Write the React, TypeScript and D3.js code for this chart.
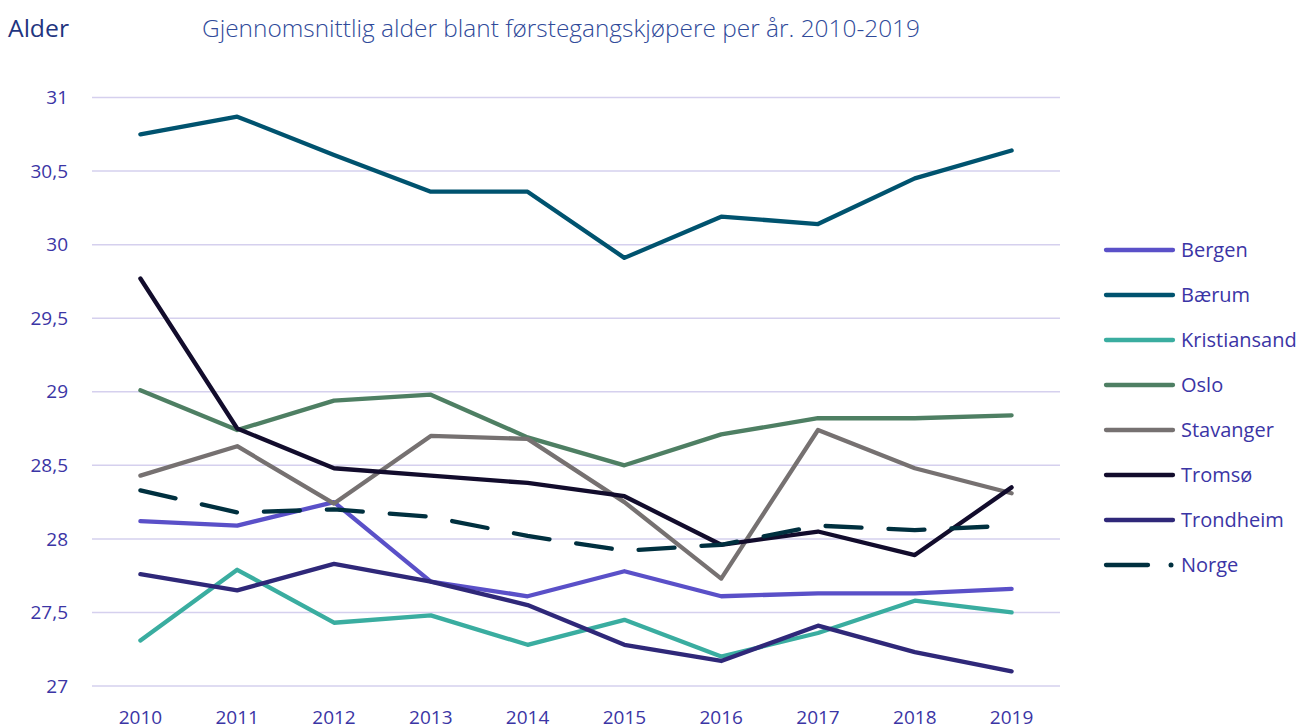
import React from "react";
import * as d3 from "d3";

const years = ["2010","2011","2012","2013","2014","2015","2016","2017","2018","2019"];
const yTicks = [27, 27.5, 28, 28.5, 29, 29.5, 30, 30.5, 31];

const bergen = [28.12, 28.09, 28.25, 27.71, 27.61, 27.78, 27.61, 27.63, 27.63, 27.66];
const baerum = [30.75, 30.87, 30.61, 30.36, 30.36, 29.91, 30.19, 30.14, 30.45, 30.64];
const kristiansand = [27.31, 27.79, 27.43, 27.48, 27.28, 27.45, 27.20, 27.36, 27.58, 27.50];
const oslo = [29.01, 28.74, 28.94, 28.98, 28.69, 28.50, 28.71, 28.82, 28.82, 28.84];
const stavanger = [28.43, 28.63, 28.24, 28.70, 28.68, 28.25, 27.73, 28.74, 28.48, 28.31];
const tromso = [29.77, 28.75, 28.48, 28.43, 28.38, 28.29, 27.96, 28.05, 27.89, 28.35];
const trondheim = [27.76, 27.65, 27.83, 27.71, 27.55, 27.28, 27.17, 27.41, 27.23, 27.10];
const norge = [28.33, 28.18, 28.20, 28.15, 28.02, 27.92, 27.96, 28.09, 28.06, 28.09];

const seriesNames = ["Bergen", "Bærum", "Kristiansand", "Oslo", "Stavanger", "Tromsø", "Trondheim", "Norge"];
const seriesValues = [bergen, baerum, kristiansand, oslo, stavanger, tromso, trondheim, norge];
const seriesColors = ["#5A50C8", "#00536F", "#3AADA0", "#4E7F63", "#767171", "#120C2C", "#2F2879", "#00303F"];

const textColor = "#3B35A5";

export default function App() {
  const width = 1304;
  const height = 728;
  const left = 92, right = 1060, top = 97.5, bottom = 686;

  const x = d3.scaleBand<string>().domain(years).range([left, right]);
  const y = d3.scaleLinear().domain([27, 31]).range([bottom, top]);
  const fmt = (v: number) => String(v).replace(".", ",");

  const line = d3.line<number>()
    .x((_, i) => (x(years[i]) as number) + x.bandwidth() / 2)
    .y((d) => y(d));

  return (
    <svg width={width} height={height} style={{ position: "absolute", left: 0, top: 0, fontFamily: "'Open Sans', 'Noto Sans', sans-serif" }}>
      <rect width={width} height={height} fill="#fff" />
      <text x={8} y={37} fontSize={23} fill="#1F3580" textLength={61} lengthAdjust="spacingAndGlyphs">Alder</text>
      <text x={202} y={37} fontSize={23} fill="#2F4A9A" fontWeight={300} textLength={718} lengthAdjust="spacingAndGlyphs">Gjennomsnittlig alder blant førstegangskjøpere per år. 2010-2019</text>

      {yTicks.map((t) => (
        <g key={t}>
          <line x1={left} x2={right} y1={y(t)} y2={y(t)} stroke="#D5D0EE" strokeWidth={1.5} />
          <text x={68} y={y(t)} dy="0.35em" textAnchor="end" fontSize={19} fill={textColor}>{fmt(t)}</text>
        </g>
      ))}

      {years.map((yr) => (
        <text key={yr} x={(x(yr) as number) + x.bandwidth() / 2} y={724} textAnchor="middle" fontSize={19} fill={textColor}>{yr}</text>
      ))}

      {seriesValues.map((vals, i) => (
        <path key={seriesNames[i]} d={line(vals) || ""} fill="none" stroke={seriesColors[i]} strokeWidth={4.3}
          strokeLinecap="round" strokeLinejoin="round"
          strokeDasharray={seriesNames[i] === "Norge" ? "36,27" : undefined} />
      ))}

      {seriesNames.map((name, i) => {
        const ly = 250 + i * 45;
        const isDash = name === "Norge";
        return (
          <g key={name}>
            {isDash ? (
              <>
                <line x1={1106} x2={1148} y1={ly} y2={ly} stroke={seriesColors[i]} strokeWidth={4.3} strokeLinecap="round" />
                <circle cx={1171} cy={ly} r={2.5} fill={seriesColors[i]} />
              </>
            ) : (
              <line x1={1106} x2={1173} y1={ly} y2={ly} stroke={seriesColors[i]} strokeWidth={4.3} strokeLinecap="round" />
            )}
            <text x={1181} y={ly} dy="0.35em" fontSize={20} fill={textColor}>{name}</text>
          </g>
        );
      })}
    </svg>
  );
}
